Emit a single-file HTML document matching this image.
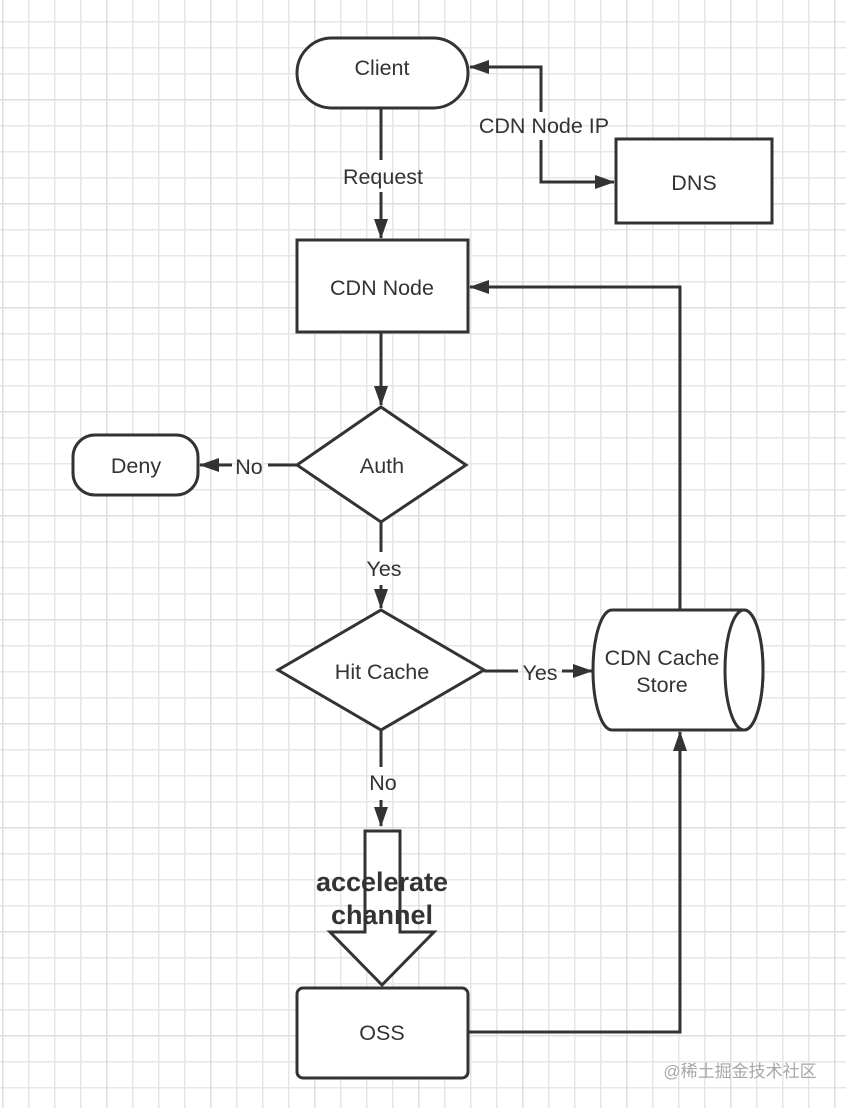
<!DOCTYPE html>
<html><head><meta charset="utf-8"><style>
html,body{margin:0;padding:0;background:#fff;}
svg{display:block;}
text{font-family:"Liberation Sans","Noto Sans CJK SC",sans-serif;fill:#333;}
</style></head><body>
<svg width="846" height="1108" viewBox="0 0 846 1108" xmlns="http://www.w3.org/2000/svg">
<defs>
<pattern id="g" x="2" y="-5" width="26" height="26" patternUnits="userSpaceOnUse">
<path d="M0 0H26M0 0V26" stroke="#e6e6e6" stroke-width="3" fill="none"/>
</pattern>
<pattern id="G" x="2" y="-5" width="104" height="104" patternUnits="userSpaceOnUse">
<path d="M0 0H104M0 0V104" stroke="#dedede" stroke-width="3" fill="none"/>
</pattern>
<marker id="a" markerWidth="20" markerHeight="14" refX="19" refY="7" orient="auto" markerUnits="userSpaceOnUse">
<path d="M0 0L20 7L0 14Z" fill="#333"/>
</marker>
</defs>
<rect width="846" height="1108" fill="#fff"/>
<rect width="846" height="1108" fill="url(#g)"/>
<rect width="846" height="1108" fill="url(#G)"/>
<g stroke="#333" stroke-width="3" fill="#fff">
<path d="M541 112V67H470" fill="none" marker-end="url(#a)"/>
<path d="M541 140V182H614" fill="none" marker-end="url(#a)"/>
<path d="M381 108V160" fill="none"/>
<path d="M381 192V238" fill="none" marker-end="url(#a)"/>
<path d="M381 332V405" fill="none" marker-end="url(#a)"/>
<path d="M297 465H268" fill="none"/>
<path d="M232 465H200" fill="none" marker-end="url(#a)"/>
<path d="M381 522V552" fill="none"/>
<path d="M381 585V608" fill="none" marker-end="url(#a)"/>
<path d="M484 671H518" fill="none"/>
<path d="M562 671H592" fill="none" marker-end="url(#a)"/>
<path d="M381 730V767" fill="none"/>
<path d="M381 800V826" fill="none" marker-end="url(#a)"/>
<path d="M680 610V287H470" fill="none" marker-end="url(#a)"/>
<path d="M468 1032H680V732" fill="none" marker-end="url(#a)"/>
<rect x="297" y="38" width="171" height="70" rx="35"/>
<rect x="616" y="139" width="156" height="84"/>
<rect x="297" y="240" width="171" height="92"/>
<path d="M381 407L466 465L381 522L297 465Z"/>
<rect x="73" y="435" width="125" height="60" rx="22"/>
<path d="M381 610L484 670L381 730L278 670Z"/>
<path d="M612 610H744A19 60 0 0 1 744 730H612A19 60 0 0 1 612 610Z"/>
<ellipse cx="744" cy="670" rx="19" ry="60"/>
<path d="M365 831H400V932H434L382 985L330 932H365Z"/>
<rect x="297" y="988" width="171" height="90" rx="6"/>
</g>
<g font-size="21.5" text-anchor="middle">
<text x="382" y="75">Client</text>
<text x="694" y="190">DNS</text>
<text x="544" y="133">CDN Node IP</text>
<text x="383" y="184">Request</text>
<text x="382" y="295">CDN Node</text>
<text x="382" y="473">Auth</text>
<text x="136" y="473">Deny</text>
<text x="249" y="474">No</text>
<text x="384" y="576">Yes</text>
<text x="382" y="679">Hit Cache</text>
<text x="540" y="680">Yes</text>
<text x="662" y="665">CDN Cache</text>
<text x="662" y="692">Store</text>
<text x="383" y="790">No</text>
<text x="382" y="1040">OSS</text>
</g>
<g font-size="27" font-weight="bold" text-anchor="middle">
<text x="382" y="891">accelerate</text>
<text x="382" y="924">channel</text>
</g>
<text x="740" y="1077" font-size="17" text-anchor="middle" style="fill:#a8a8a8">@稀土掘金技术社区</text>
</svg>
</body></html>
